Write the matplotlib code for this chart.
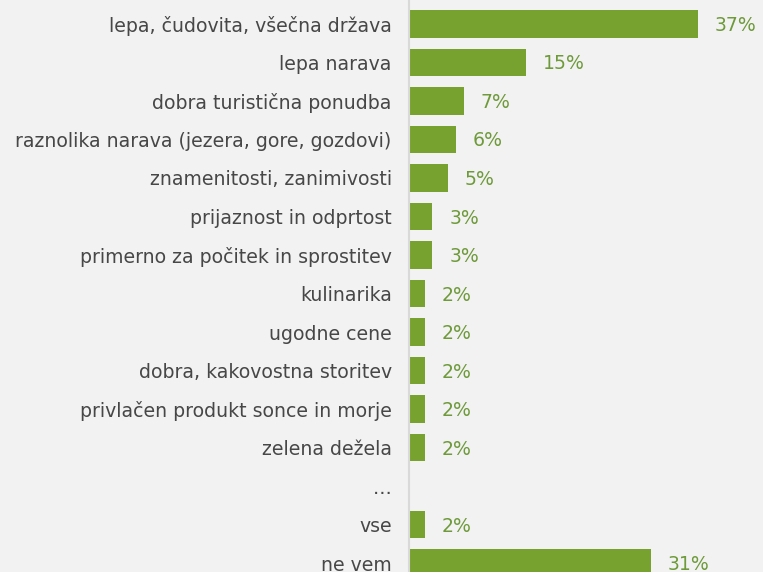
import matplotlib
matplotlib.use("Agg")
import matplotlib.pyplot as plt

plt.rcParams["font.family"] = ["DejaVu Sans"]

labels = [
    "lepa, čudovita, všečna država",
    "lepa narava",
    "dobra turistična ponudba",
    "raznolika narava (jezera, gore, gozdovi)",
    "znamenitosti, zanimivosti",
    "prijaznost in odprtost",
    "primerno za počitek in sprostitev",
    "kulinarika",
    "ugodne cene",
    "dobra, kakovostna storitev",
    "privlačen produkt sonce in morje",
    "zelena dežela",
    "…",
    "vse",
    "ne vem",
]
values = [37, 15, 7, 6, 5, 3, 3, 2, 2, 2, 2, 2, None, 2, 31]

bg = "#f2f2f2"
bar_col = "#78a22f"
val_col = "#6e9a3a"
txt_col = "#474747"

fig = plt.figure(figsize=(7.63, 5.72), dpi=100, facecolor=bg)
ax = fig.add_axes([409 / 763, 0, 1 - 409 / 763, 1])
ax.set_facecolor(bg)

for i, v in enumerate(values):
    if v is None:
        continue
    ax.barh(i, v, height=0.72, color=bar_col, edgecolor="none")
    ax.text(v + 17 / 7.8, i + 0.04, f"{v}%", color=val_col, fontsize=13.6,
            va="center", ha="left")

ax.set_xlim(0, (763 - 409) / 7.8)
ax.set_ylim(14.23, -0.62)
ax.set_yticks(range(len(labels)))
ax.set_yticklabels(labels, fontsize=13.6, color=txt_col)
ax.tick_params(axis="y", length=0, pad=12.5)
ax.set_xticks([])
for s in ["top", "right", "bottom"]:
    ax.spines[s].set_visible(False)
ax.spines["left"].set_color("#d9d9d9")
ax.spines["left"].set_linewidth(1.5)

fig.savefig("out.png", dpi=100, facecolor=bg)
